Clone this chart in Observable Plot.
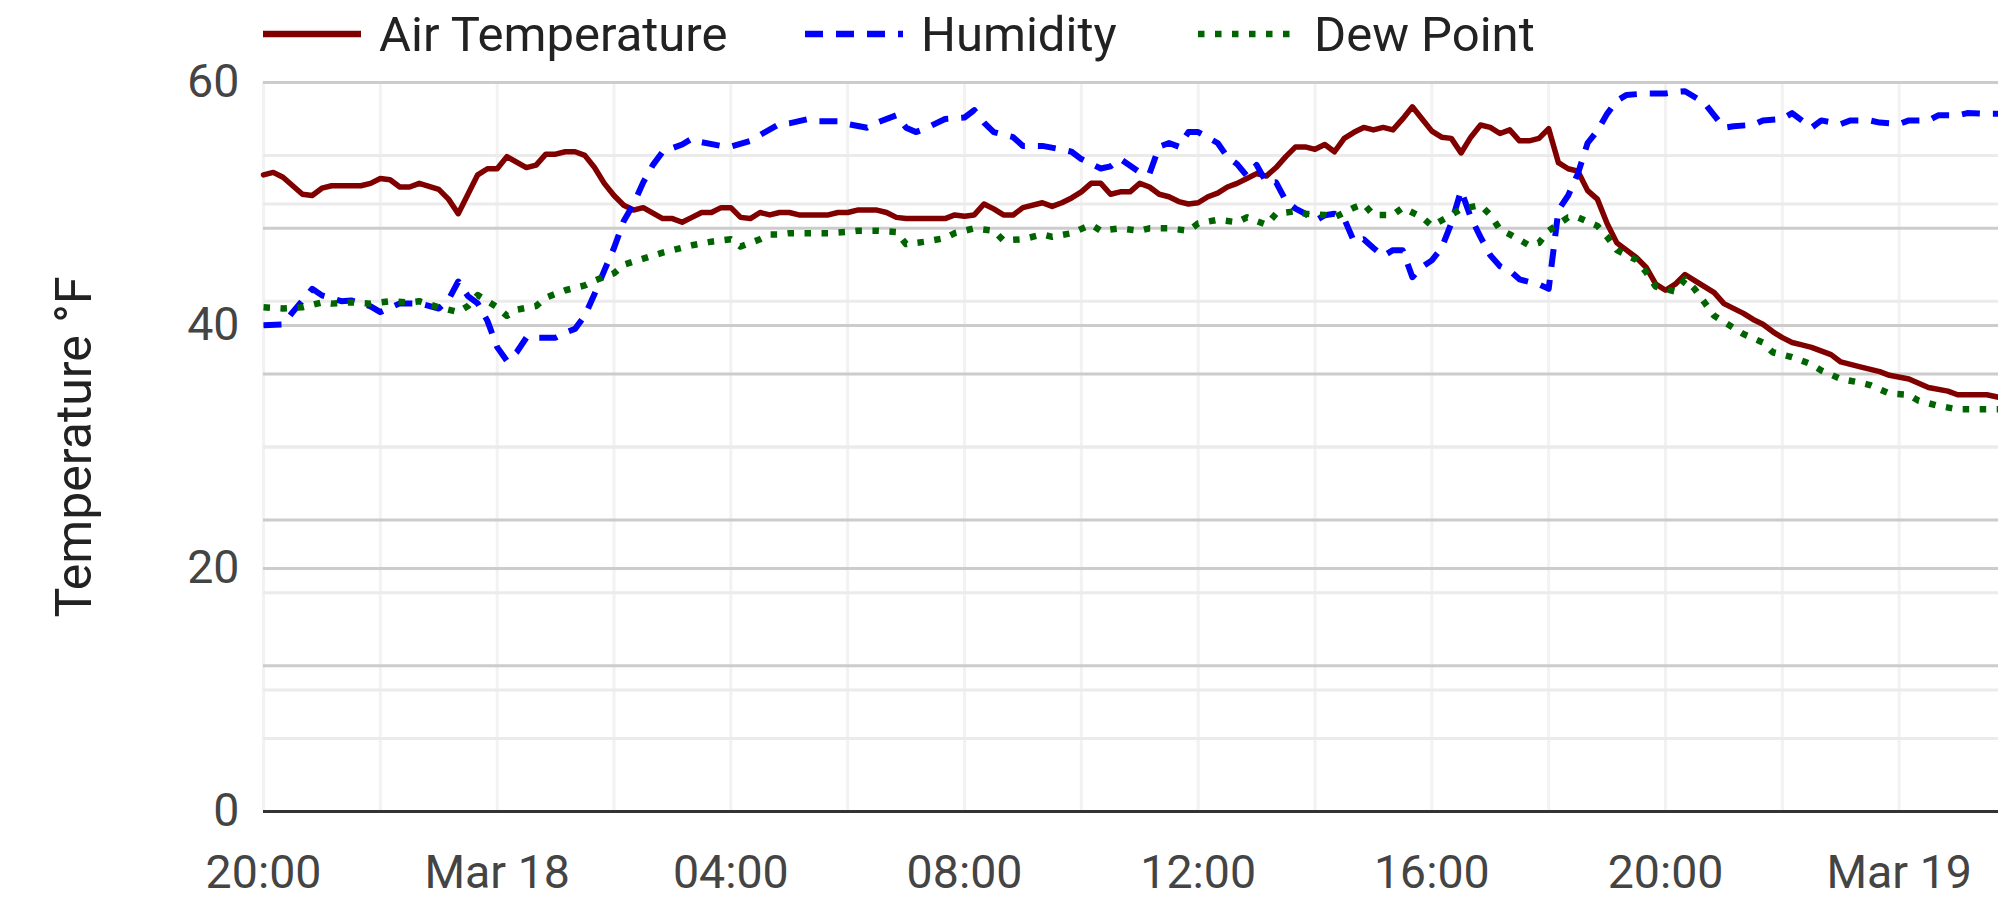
<!DOCTYPE html>
<html>
<head>
<meta charset="utf-8">
<script src="https://cdn.jsdelivr.net/npm/d3@7"></script>
<script src="https://cdn.jsdelivr.net/npm/@observablehq/plot@0.6"></script>
<style>
  html, body { margin: 0; padding: 0; background: #fff; }
  body { width: 1998px; height: 924px; overflow: hidden; font-family: Roboto, sans-serif; }
  #legend { position: relative; height: 62px; font-size: 49px; color: #222; }
  .item { position: absolute; top: 0; height: 68px; display: flex; align-items: center; line-height: 1; white-space: nowrap; }
  .item svg { margin-right: 18px; }
</style>
</head>
<body>
<div id="legend"></div>
<div id="chart"></div>
<script>
// ---- Data (minutes after Mar 17 20:00, value) ----
const airTemperature = [
  [0,52.4],[10,52.6],[20,52.2],[40,50.8],[50,50.7],[60,51.3],[70,51.5],[100,51.5],[110,51.7],[120,52.1],
  [130,52.0],[140,51.4],[150,51.4],[160,51.7],[180,51.2],[190,50.4],[200,49.2],[220,52.4],[230,52.9],[240,52.9],
  [250,53.9],[270,53.0],[280,53.2],[290,54.1],[300,54.1],[310,54.3],[320,54.3],[330,54.0],[340,53.0],[350,51.7],
  [360,50.7],[370,49.9],[380,49.5],[390,49.7],[410,48.8],[420,48.8],[430,48.5],[440,48.9],[450,49.3],[460,49.3],
  [470,49.7],[480,49.7],[490,48.9],[500,48.8],[510,49.3],[520,49.1],[530,49.3],[540,49.3],[550,49.1],[580,49.1],
  [590,49.3],[600,49.3],[610,49.5],[630,49.5],[640,49.3],[650,48.9],[660,48.8],[700,48.8],[710,49.1],[720,49.0],
  [730,49.1],[740,50.0],[750,49.6],[760,49.1],[770,49.1],[780,49.7],[800,50.1],[810,49.8],[820,50.1],[830,50.5],
  [840,51.0],[850,51.7],[860,51.7],[870,50.8],[880,51.0],[890,51.0],[900,51.7],[910,51.4],[920,50.8],[930,50.6],
  [940,50.2],[950,50.0],[960,50.1],[970,50.6],[980,50.9],[990,51.4],[1000,51.7],[1010,52.1],[1020,52.5],[1030,52.3],
  [1040,53.0],[1050,53.9],[1060,54.7],[1070,54.7],[1080,54.5],[1090,54.9],[1100,54.3],[1110,55.4],[1120,55.9],[1130,56.3],
  [1140,56.1],[1150,56.3],[1160,56.1],[1170,57.0],[1180,58.0],[1190,57.0],[1200,56.0],[1210,55.5],[1220,55.4],[1230,54.2],
  [1240,55.5],[1250,56.5],[1260,56.3],[1270,55.8],[1280,56.1],[1290,55.2],[1300,55.2],[1310,55.4],[1320,56.2],[1330,53.4],
  [1340,52.9],[1350,52.7],[1360,51.1],[1370,50.4],[1380,48.4],[1390,46.8],[1400,46.2],[1410,45.6],[1420,44.8],[1430,43.4],
  [1440,42.9],[1450,43.4],[1460,44.2],[1470,43.7],[1490,42.7],[1500,41.8],[1520,41.0],[1530,40.5],[1540,40.1],[1550,39.5],
  [1560,39.0],[1570,38.6],[1580,38.4],[1590,38.2],[1610,37.6],[1620,37.0],[1640,36.6],[1660,36.2],[1670,35.9],[1690,35.6],
  [1710,34.9],[1730,34.6],[1740,34.3],[1770,34.3],[1782,34.1]
];

// relative humidity, %
const humidity = [
  [0,66.7],[20,66.8],[30,68.5],[50,71.7],[60,70.8],[80,70.0],[90,70.1],[110,69.3],[120,68.5],[140,69.7],
  [160,69.7],[180,69.0],[190,70.2],[200,72.7],[210,70.7],[220,69.7],[230,67.3],[240,63.7],[250,61.8],[260,63.0],
  [270,65.0],[280,65.0],[300,65.0],[310,65.7],[320,66.2],[330,68.0],[340,71.0],[350,74.2],[360,77.3],[370,81.0],
  [380,83.3],[390,86.3],[400,88.7],[410,90.5],[430,91.5],[440,92.3],[450,91.8],[470,91.3],[480,91.2],[500,92.0],
  [510,92.8],[530,94.3],[540,94.4],[560,95.0],[570,94.7],[590,94.7],[600,94.3],[620,93.8],[630,94.5],[650,95.5],
  [660,93.8],[670,93.2],[680,93.7],[700,95.0],[720,95.2],[730,96.2],[740,94.5],[750,93.2],[770,92.5],[780,91.3],
  [800,91.3],[820,90.8],[830,90.5],[840,89.5],[860,88.2],[870,88.5],[880,89.5],[900,87.7],[910,87.5],[920,91.2],
  [930,91.7],[940,91.2],[950,93.2],[960,93.2],[980,91.7],[990,89.8],[1000,88.8],[1010,87.2],[1020,88.7],[1030,86.3],
  [1040,86.3],[1050,83.8],[1060,82.7],[1070,82.0],[1080,81.0],[1090,81.8],[1100,82.0],[1110,81.3],[1120,78.2],[1130,78.5],
  [1140,77.3],[1150,76.2],[1160,77.0],[1170,77.0],[1180,73.3],[1190,74.7],[1200,75.6],[1210,77.3],[1220,80.7],[1230,85.2],
  [1240,81.5],[1250,78.8],[1260,76.3],[1270,74.8],[1280,74.2],[1290,73.0],[1310,72.3],[1320,71.7],[1330,82.5],[1340,84.5],
  [1350,87.5],[1360,91.7],[1370,93.4],[1380,95.7],[1390,97.5],[1400,98.3],[1420,98.5],[1440,98.5],[1450,98.7],[1460,98.8],
  [1480,97.2],[1490,95.5],[1500,93.8],[1510,94.0],[1530,94.2],[1540,94.8],[1560,95.0],[1570,95.8],[1590,93.8],[1600,94.8],
  [1620,94.3],[1630,94.8],[1650,94.8],[1660,94.5],[1680,94.3],[1690,94.8],[1710,94.8],[1720,95.5],[1740,95.5],[1750,95.8],
  [1770,95.7],[1782,95.7]
];

const dewPoint = [
  [0,41.5],[20,41.4],[40,41.5],[60,41.9],[70,41.8],[90,41.9],[110,41.8],[130,42.0],[150,41.9],[160,42.0],
  [180,41.5],[200,41.1],[210,41.6],[220,42.5],[240,41.5],[250,40.8],[260,41.3],[280,41.6],[290,42.3],[310,42.9],
  [330,43.3],[340,43.7],[360,44.3],[370,45.0],[390,45.5],[410,46.0],[420,46.2],[440,46.6],[460,46.9],[480,47.1],
  [490,46.5],[510,47.1],[520,47.5],[530,47.5],[540,47.6],[560,47.6],[580,47.6],[600,47.7],[610,47.8],[630,47.8],
  [650,47.7],[660,46.7],[680,46.9],[700,47.2],[710,47.6],[730,48.0],[750,47.8],[760,47.0],[780,47.1],[800,47.5],
  [810,47.3],[830,47.6],[850,48.3],[860,47.8],[880,48.0],[900,47.8],[910,48.0],[930,48.0],[950,47.8],[960,48.4],
  [980,48.7],[1000,48.5],[1010,48.9],[1030,48.3],[1040,49.2],[1060,49.4],[1070,49.2],[1090,49.1],[1100,48.9],[1120,49.7],
  [1130,50.0],[1140,49.1],[1160,49.1],[1170,49.7],[1190,48.9],[1200,48.2],[1220,49.1],[1230,49.6],[1250,49.9],[1260,49.1],
  [1270,47.9],[1280,47.5],[1300,46.6],[1310,46.8],[1320,47.8],[1340,48.9],[1350,48.9],[1370,48.2],[1380,47.3],[1390,46.2],
  [1410,45.4],[1420,44.4],[1430,43.2],[1450,42.8],[1460,43.8],[1470,43.0],[1480,41.9],[1490,40.8],[1510,39.8],[1520,39.3],
  [1540,38.6],[1550,37.8],[1570,37.4],[1590,36.8],[1600,36.3],[1620,35.6],[1640,35.3],[1650,35.1],[1670,34.4],[1690,34.3],
  [1700,33.8],[1720,33.4],[1740,33.1],[1750,33.1],[1782,33.1]
];

// ---- Axes definitions ----
const seriesNames = ["Air Temperature", "Humidity", "Dew Point"];
const seriesColors = ["#800000", "#0000ff", "#006400"];
const seriesDashes = [null, "18,13", "6.5,10.5"];
const tempTicks = [0, 20, 40, 60];
const tempMinorTicks = [10, 30, 50];
const humidityTicks = [20, 40, 60, 80, 100];      // right (hidden) axis, %
const humidityMinorTicks = [10, 30, 50, 70, 90];
const humidityToTemp = 60 / 100;                  // 100 % ↔ 60 °F
const xTickHours = [0, 4, 8, 12, 16, 20, 24, 28];
const xTickLabels = ["20:00", "Mar 18", "04:00", "08:00", "12:00", "16:00", "20:00", "Mar 19"];
const endMinute = 1782;

const start = Date.UTC(2024, 2, 17, 20, 0);
const toDate = m => new Date(start + m * 60000);
const tickDates = xTickHours.map(h => toDate(h * 60));
const labelMap = new Map(tickDates.map((d, i) => [+d, xTickLabels[i]]));
const gridDates = d3.range(0, endMinute, 120).map(toDate);

// ---- Legend ----
const legend = document.getElementById("legend");
const legendLeft = [263, 805, 1198];
seriesNames.forEach((name, i) => {
  const item = document.createElement("div");
  item.className = "item";
  item.style.left = legendLeft[i] + "px";
  const dash = seriesDashes[i] ? ` stroke-dasharray="${seriesDashes[i]}"` : "";
  item.innerHTML = `<svg width="98" height="14"><line x1="0" x2="98" y1="7" y2="7" stroke="${seriesColors[i]}" stroke-width="6.5"${dash}/></svg><span>${name}</span>`;
  legend.appendChild(item);
});

// ---- Chart ----
const lineOpts = (i, w) => ({
  x: d => toDate(d[0]),
  y: d => (i === 1 ? d[1] * humidityToTemp : d[1]),
  stroke: seriesColors[i],
  strokeWidth: w,
  strokeDasharray: seriesDashes[i] || undefined,
  strokeLinecap: seriesDashes[i] ? "butt" : "round",
  strokeLinejoin: "round"
});

const chart = Plot.plot({
  width: 1998,
  height: 862,
  marginLeft: 263,
  marginRight: 0,
  marginTop: 20,
  marginBottom: 113,
  style: { fontFamily: "Roboto, sans-serif", background: "#fff", overflow: "visible" },
  x: { type: "utc", domain: [toDate(0), toDate(endMinute)] },
  y: { domain: [0, 60] },
  marks: [
    Plot.ruleX(gridDates, { stroke: "#f2f2f2", strokeWidth: 3 }),
    Plot.ruleY(tempMinorTicks, { stroke: "#ebebeb", strokeWidth: 3 }),
    Plot.ruleY(humidityMinorTicks, { y: d => d * humidityToTemp, stroke: "#ebebeb", strokeWidth: 3 }),
    Plot.ruleY(humidityTicks, { y: d => d * humidityToTemp, stroke: "#cccccc", strokeWidth: 3 }),
    Plot.ruleY(tempTicks.filter(t => t > 0), { stroke: "#cccccc", strokeWidth: 3 }),
    Plot.ruleY([0], { stroke: "#333333", strokeWidth: 3 }),
    Plot.line(airTemperature, lineOpts(0, 5.5)),
    Plot.line(humidity, lineOpts(1, 6)),
    Plot.line(dewPoint, lineOpts(2, 6.5)),
    Plot.axisX({ ticks: tickDates, tickFormat: d => labelMap.get(+d), tickSize: 0, tickPadding: 43,
                 fontSize: 46.5, color: "#444", label: null }),
    Plot.axisY({ ticks: tempTicks, tickSize: 0, tickPadding: 24, fontSize: 46.5, color: "#444", label: null }),
    Plot.text(["Temperature °F"], { text: d => d, frameAnchor: "left", dx: -189, rotate: -90,
                 fontSize: 50, fill: "#222", textAnchor: "middle", lineAnchor: "middle" })
  ]
});
document.getElementById("chart").appendChild(chart);
</script>
</body>
</html>
